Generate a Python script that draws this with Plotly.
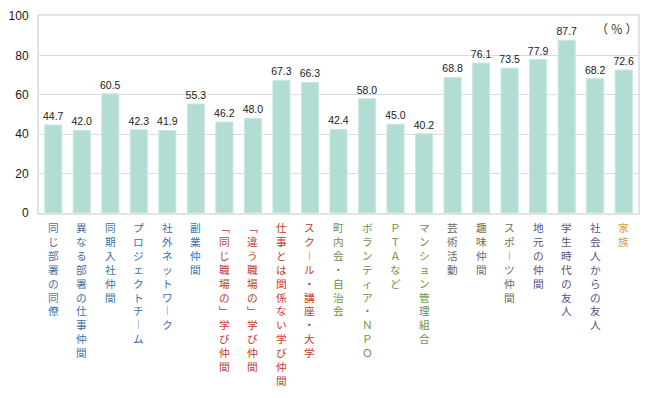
import plotly.graph_objects as go

categories = ["同じ部署の同僚", "異なる部署の仕事仲間", "同期入社仲間", "プロジェクトチーム",
              "社外ネットワーク", "副業仲間", "「同じ職場の」学び仲間", "「違う職場の」学び仲間",
              "仕事とは関係ない学び仲間", "スクール・講座・大学", "町内会・自治会",
              "ボランティア・ＮＰＯ", "ＰＴＡなど", "マンション管理組合", "芸術活動", "趣味仲間",
              "スポーツ仲間", "地元の仲間", "学生時代の友人", "社会人からの友人", "家族"]
values = [44.7, 42.0, 60.5, 42.3, 41.9, 55.3, 46.2, 48.0, 67.3, 66.3,
          42.4, 58.0, 45.0, 40.2, 68.8, 76.1, 73.5, 77.9, 87.7, 68.2, 72.6]
groups = ["work"] * 6 + ["learn"] * 4 + ["local"] * 4 + ["hobby"] * 3 + ["friend"] * 3 + ["family"]
y_ticks = [0, 20, 40, 60, 80, 100]
unit_label = "（ ％ ）"

group_colors = {"work": "#3a72a8", "learn": "#c63a2c", "local": "#6f9241",
                "hobby": "#6c6c56", "friend": "#5e4f80", "family": "#d6a028"}

vert_map = {"ー": "︱", "「": "﹁", "」": "﹂"}

def vertical(s):
    return "<br>".join(vert_map.get(c, c) for c in s)

x_idx = list(range(len(values)))
fig = go.Figure(go.Bar(
    x=x_idx, y=values, width=0.6,
    marker=dict(color="#b1ddd5", line=dict(color="#c8e8e2", width=1)),
    text=[f"{v:.1f}" for v in values], textposition="outside", constraintext="none",
    textfont=dict(family="Liberation Sans, Arial", size=10.5, color="#1a1a1a"),
    cliponaxis=False, hoverinfo="skip",
))

for i, (cat, g) in enumerate(zip(categories, groups)):
    fig.add_annotation(x=i, xref="x", y=0, yref="paper", yanchor="top", xanchor="center",
                       yshift=-5, text=vertical(cat), showarrow=False, align="center",
                       font=dict(family="Noto Sans CJK JP", size=10.7, color=group_colors[g]))

fig.add_annotation(x=1, xref="paper", y=1, yref="paper", xanchor="right", yanchor="top",
                   xshift=1, yshift=-2, text=unit_label, showarrow=False,
                   font=dict(family="Noto Sans CJK JP", size=12, color="#333333"))

fig.update_layout(
    width=648, height=398, margin=dict(l=39, r=10, t=16, b=185, autoexpand=False),
    plot_bgcolor="white", paper_bgcolor="white", showlegend=False,
    xaxis=dict(range=[-0.5, len(values) - 0.5], showticklabels=False, showgrid=False,
               zeroline=False, showline=True, linecolor="#e3e3e3", linewidth=2, mirror=True,
               fixedrange=True),
    yaxis=dict(range=[0, 100], tickvals=y_ticks, showgrid=True, gridcolor="#dcdcdc", gridwidth=1,
               zeroline=False, showline=True, linecolor="#e3e3e3", linewidth=2, mirror=True,
               tickfont=dict(family="Liberation Sans, Arial", size=12, color="#1a1a1a"),
               ticklabelstandoff=6, fixedrange=True, automargin=False),
)
fig.write_html("out.html", config={"displayModeBar": False},
               post_script="document.body.style.margin='0';document.body.style.overflow='hidden';")
